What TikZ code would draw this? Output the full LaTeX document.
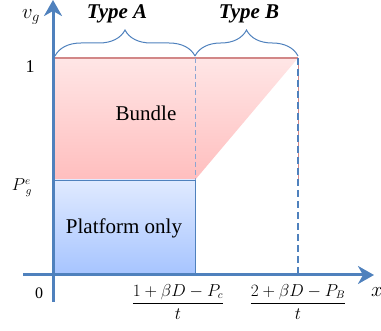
\documentclass[tikz,border=0pt]{standalone}
\usepackage{fontspec}
\setmainfont{Liberation Serif}
\usetikzlibrary{arrows.meta,decorations.pathreplacing}
\definecolor{axisblue}{RGB}{79,129,189}
\definecolor{lightdash}{RGB}{140,165,210}
\definecolor{pinkline}{RGB}{210,135,135}
\definecolor{pinktop}{RGB}{255,230,230}
\definecolor{pinkbot}{RGB}{255,190,190}
\definecolor{bluetop}{RGB}{224,234,255}
\definecolor{bluebot}{RGB}{166,196,255}
\tikzset{
  axisline/.style={draw=axisblue,line width=3pt,-{Stealth[length=16pt,width=18pt,inset=5pt]}},
  bracestyle/.style={draw=axisblue,line width=1pt,decorate,decoration={brace,amplitude=26pt,aspect=0.5}},
  lbl/.style={inner sep=0pt,text=black},
}
\begin{document}
\begin{tikzpicture}[x=1pt,y=-1pt]
\useasboundingbox (0,0) rectangle (381,331);
% key points
\coordinate (O) at (53,275);
\coordinate (TL) at (53,58);
\coordinate (TA) at (195,58);
\coordinate (TB) at (298,58);
\coordinate (PL) at (53,180);
\coordinate (PA) at (195,180);
\coordinate (BA) at (195,275);
\coordinate (BB) at (298,275);
% bundle region
\shade[top color=pinktop,bottom color=pinkbot] (TL) -- (TB) -- (PA) -- (PL) -- cycle;
% platform region
\shade[top color=bluetop,bottom color=bluebot] (PL) rectangle (BA);
\draw[axisblue,line width=0.8pt] (PL) -- (PA) -- (BA);
% borders
\draw[pinkline,line width=1.2pt] (TL) -- (TB);
\draw[pinkline,line width=0.8pt] (TB) -- (298,180);
\draw[lightdash,line width=0.9pt,dash pattern=on 5pt off 3pt] (TA) -- (PA);
\draw[axisblue,line width=1.6pt,dash pattern=on 7pt off 4pt] (TB) -- (BB);
% braces
\draw[bracestyle] (55,56) -- (195,56);
\draw[bracestyle] (195,56) -- (298,56);
% axes
\draw[axisline] (53,302) -- (53,0);
\draw[axisline] (23,275) -- (374,275);
% labels
\node[lbl,font=\fontsize{21}{24}\selectfont\bfseries\itshape] (typeA) at (117,14) {Type A};
\node[lbl,font=\fontsize{21}{24}\selectfont\bfseries\itshape] (typeB) at (249,14) {Type B};
\node[lbl,font=\fontsize{21}{25}\selectfont] (bundle) at (146,113) {Bundle};
\node[lbl,font=\fontsize{21}{25}\selectfont] (platform) at (124,228) {Platform only};
\node[lbl,font=\fontsize{22}{26}\selectfont] (vg) at (31,17) {$v_g$};
\node[lbl,font=\fontsize{18}{22}\selectfont] (one) at (30,67) {1};
\node[lbl,font=\fontsize{16}{20}\selectfont] (pe) at (22,188) {$P^{e}_{\;g}$};
\node[lbl,font=\fontsize{16}{20}\selectfont] (zero) at (39,293) {0};
\node[lbl,font=\fontsize{22}{26}\selectfont,anchor=west] (xlab) at (371,292) {$x$};
\node[lbl,font=\fontsize{16}{19}\selectfont] (fracA) at (178,302) {$\displaystyle\frac{1+\beta D-P_c}{t}$};
\node[lbl,font=\fontsize{16}{19}\selectfont] (fracB) at (298,302) {$\displaystyle\frac{2+\beta D-P_B}{t}$};
\end{tikzpicture}
\end{document}
